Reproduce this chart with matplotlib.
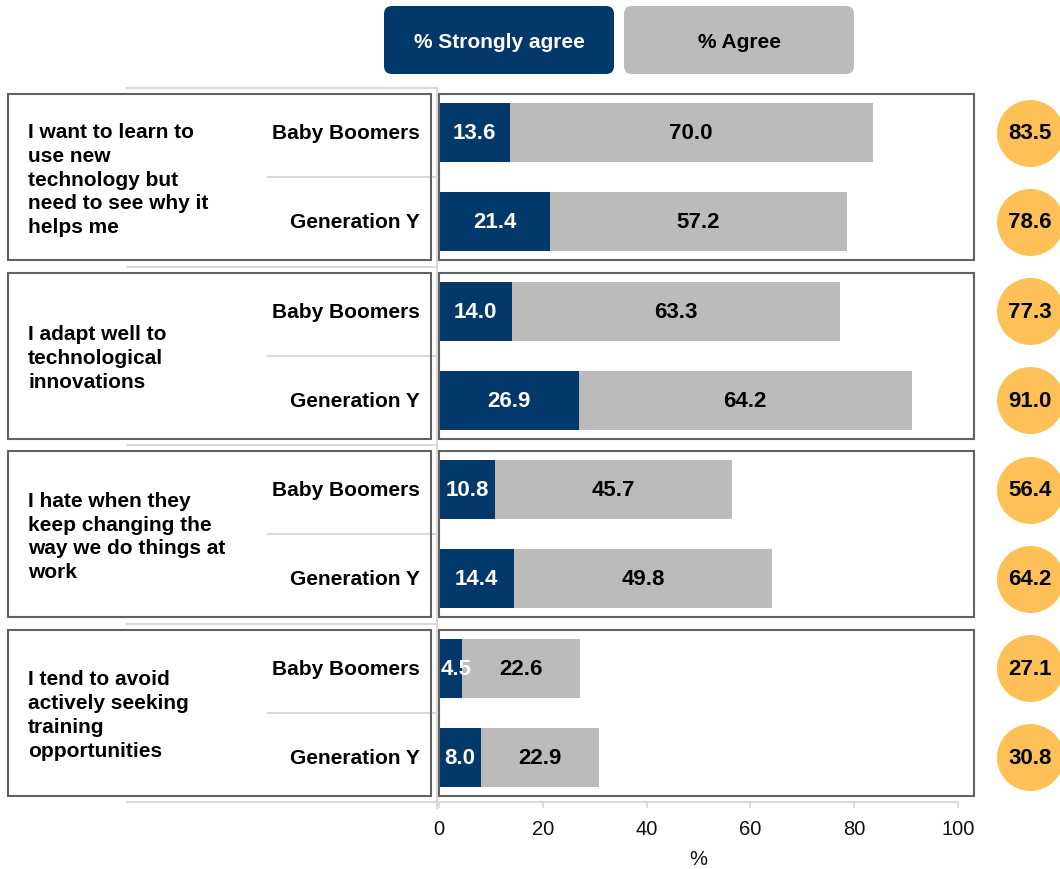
import matplotlib
matplotlib.use("Agg")
import matplotlib.pyplot as plt
from matplotlib.patches import Rectangle, FancyBboxPatch
from matplotlib import font_manager

# Survey data: share of respondents agreeing with each statement
statements = [
    "I want to learn to\nuse new\ntechnology but\nneed to see why it\nhelps me",
    "I adapt well to\ntechnological\ninnovations",
    "I hate when they\nkeep changing the\nway we do things at\nwork",
    "I tend to avoid\nactively seeking\ntraining\nopportunities",
]
generations = ["Baby Boomers", "Generation Y"]
strongly_agree = [13.6, 21.4, 14.0, 26.9, 10.8, 14.4, 4.5, 8.0]
agree = [70.0, 57.2, 63.3, 64.2, 45.7, 49.8, 22.6, 22.9]
totals = [83.5, 78.6, 77.3, 91.0, 56.4, 64.2, 27.1, 30.8]
x_ticks = [0, 20, 40, 60, 80, 100]
legend_labels = ["% Strongly agree", "% Agree"]

NAVY = "#02386A"
GREY = "#BBBBBB"
ORANGE = "#FFC058"
BOX = "#626262"
LIGHT = "#D9D9D9"

plt.rcParams["font.family"] = ["Liberation Sans", "DejaVu Sans"]
available = {f.name for f in font_manager.fontManager.ttflist}
NARROW = ["Liberation Sans Narrow", "Liberation Sans"] if "Liberation Sans Narrow" in available else ["Liberation Sans"]

W, H = 1060, 870
fig = plt.figure(figsize=(W / 100, H / 100), dpi=100)

# plot area in pixels
X0, X1 = 439, 958
Y_TOP, Y_BOT = 89, 803
ax = fig.add_axes([X0 / W, 1 - Y_BOT / H, (X1 - X0) / W, (Y_BOT - Y_TOP) / H])
ax.set_xlim(0, 100)
ax.set_ylim(7.5, -0.5)


def xd(px):
    """pixel column -> data x of the main axes"""
    return (px - X0) / (X1 - X0) * 100


rows = list(range(len(strongly_agree)))
bar_h = 0.66
ax.barh(rows, strongly_agree, height=bar_h, color=NAVY, zorder=3)
ax.barh(rows, agree, left=strongly_agree, height=bar_h, color=GREY, zorder=3)

for r, (sa, ag) in enumerate(zip(strongly_agree, agree)):
    if sa < 6:
        # too narrow to centre: keep the label just inside the plot edge
        ax.text(xd(441), r, f"{sa:.1f}", ha="left", va="center", color="white",
                fontsize=16, fontweight="bold", family=NARROW, zorder=4, clip_on=False)
    else:
        ax.text(sa / 2, r, f"{sa:.1f}", ha="center", va="center", color="white",
                fontsize=16, fontweight="bold", family=NARROW, zorder=4, clip_on=False)
    ax.text(sa + ag / 2, r, f"{ag:.1f}", ha="center", va="center", color="black",
            fontsize=16, fontweight="bold", family=NARROW, zorder=4)

# totals in orange discs to the right of the plot
ax.scatter([xd(1030)] * len(totals), rows, s=(67 * 0.72) ** 2, color=ORANGE,
           linewidths=0, clip_on=False, zorder=3)
for r, t in enumerate(totals):
    ax.text(xd(1030), r, f"{t:.1f}", ha="center", va="center", color="black",
            fontsize=16, fontweight="bold", family=NARROW, clip_on=False, zorder=4)

# group frames, category labels and statement texts
for g, stmt in enumerate(statements):
    y0 = 2 * g - 0.43
    hgt = 1.86
    ax.add_patch(Rectangle((0, y0), xd(974), hgt, fill=False, edgecolor=BOX,
                           lw=1.5, clip_on=False, zorder=5))
    ax.add_patch(Rectangle((xd(8), y0), xd(431) - xd(8), hgt, fill=False,
                           edgecolor=BOX, lw=1.5, clip_on=False, zorder=5))
    ax.text(xd(28), 2 * g + 0.52, stmt, ha="left", va="center", fontsize=15,
            fontweight="bold", linespacing=1.32, clip_on=False)
    for k, gen in enumerate(generations):
        ax.text(xd(420), 2 * g + k, gen, ha="right", va="center", fontsize=15,
                fontweight="bold", clip_on=False)
    # thin divider between the two generations
    ax.plot([xd(268), xd(437)], [2 * g + 0.5] * 2, color=LIGHT, lw=1.5,
            clip_on=False, zorder=1)

# dividers between groups
for y in [-0.5, 1.5, 3.5, 5.5]:
    ax.plot([xd(127), xd(437)], [y, y], color=LIGHT, lw=1.5, clip_on=False, zorder=1)
ax.plot([xd(127), 100], [7.5, 7.5], color=LIGHT, lw=1.5, clip_on=False, zorder=1)
ax.plot([xd(436.5)] * 2, [-0.5, 7.5 + 6 / 89.2], color=LIGHT, lw=1.5,
        clip_on=False, zorder=1)

for s in ax.spines.values():
    s.set_visible(False)
ax.set_yticks([])
ax.set_xticks(x_ticks)
ax.tick_params(axis="x", length=4.5, width=1.2, color=LIGHT, labelsize=14.5,
               pad=8, labelcolor="#111111")
ax.set_xlabel("%", fontsize=14.5, labelpad=8, color="#111111")

# legend boxes across the top
ov = fig.add_axes([0, 0, 1, 1], zorder=-1)
ov.set_xlim(0, W)
ov.set_ylim(H, 0)
ov.axis("off")
for (lx, fc, tc), lab in zip([(384, NAVY, "white"), (624, GREY, "black")], legend_labels):
    ov.add_patch(FancyBboxPatch((lx + 8, 7 + 8), 230 - 16, 68 - 16,
                                boxstyle="round,pad=8", fc=fc, ec="none"))
    ov.text(lx + 115, 42, lab, ha="center", va="center", color=tc,
            fontsize=15, fontweight="bold")

fig.savefig("out.png", dpi=100)
